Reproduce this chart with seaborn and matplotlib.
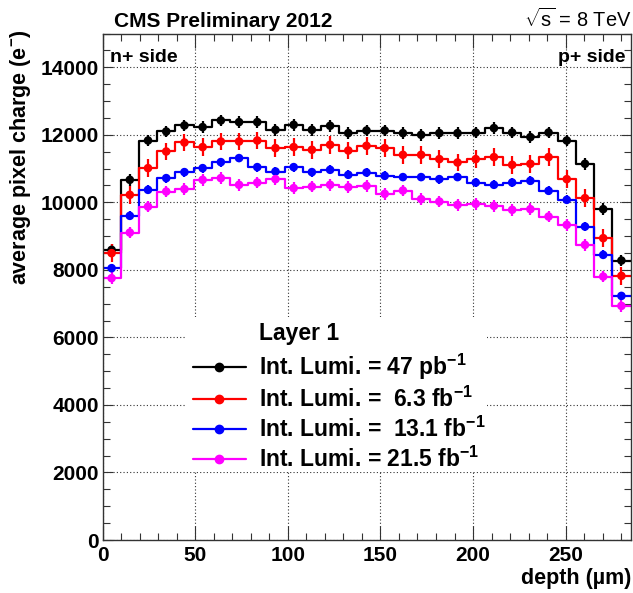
import numpy as np
import pandas as pd
import matplotlib
matplotlib.use("Agg")
import matplotlib.pyplot as plt
import seaborn as sns
from matplotlib.lines import Line2D
from matplotlib.patches import Rectangle
from matplotlib.ticker import MultipleLocator

# ---------------- data ----------------
depth_min, depth_max, n_bins = 0.0, 285.0, 29

charge_47pb = [8593, 10667, 11831, 12098, 12276, 12228, 12424, 12376, 12376, 12148,
               12296, 12148, 12267, 12050, 12127, 12127, 12050, 12000, 12050, 12050,
               12068, 12198, 12068, 11931, 12068, 11831, 11141, 9798, 8276]
charge_6p3fb = [8495, 10222, 11013, 11506, 11772, 11636, 11802, 11802, 11831, 11606,
                11636, 11556, 11704, 11535, 11674, 11606, 11407, 11407, 11280, 11180,
                11280, 11339, 11111, 11141, 11339, 10687, 10124, 8939, 7822]
charge_13p1fb = [8050, 9600, 10370, 10717, 10895, 11013, 11191, 11310, 11043, 10913,
                 11043, 10895, 10963, 10815, 10883, 10785, 10747, 10747, 10687, 10747,
                 10587, 10519, 10587, 10637, 10341, 10074, 9283, 8444, 7229]
charge_21p5fb = [7754, 9105, 9875, 10320, 10391, 10667, 10717, 10519, 10587, 10687,
                 10421, 10468, 10519, 10450, 10489, 10252, 10350, 10095, 10024, 9926,
                 9956, 9896, 9778, 9798, 9579, 9333, 8741, 7802, 6933]

errors = [170, 260, 130, 170]   # estimated statistical uncertainty per series

series_labels = ["Int. Lumi. = 47 pb$^{\\mathbf{-1}}$",
                 "Int. Lumi. =  6.3 fb$^{\\mathbf{-1}}$",
                 "Int. Lumi. =  13.1 fb$^{\\mathbf{-1}}$",
                 "Int. Lumi. = 21.5 fb$^{\\mathbf{-1}}$"]
series_colors = ["#000000", "#ff0000", "#0000ff", "#ff00ff"]
series_values = [charge_47pb, charge_6p3fb, charge_13p1fb, charge_21p5fb]

x_major_ticks = [0, 50, 100, 150, 200, 250]
y_major_ticks = [0, 2000, 4000, 6000, 8000, 10000, 12000, 14000]

# ---------------- style ----------------
sns.set_theme(style="ticks")
plt.rcParams['font.family'] = ['Liberation Sans', 'DejaVu Sans']
plt.rcParams['font.weight'] = 'bold'
plt.rcParams['text.color'] = 'black'
plt.rcParams['axes.labelcolor'] = 'black'
plt.rcParams['xtick.color'] = 'black'
plt.rcParams['ytick.color'] = 'black'
plt.rcParams['mathtext.fontset'] = 'custom'
plt.rcParams['mathtext.rm'] = 'Liberation Sans:normal'
plt.rcParams['mathtext.it'] = 'Liberation Sans:italic:normal'
plt.rcParams['mathtext.bf'] = 'Liberation Sans:bold'

W, H = 633, 593
fig = plt.figure(figsize=(W / 100, H / 100), dpi=100)
fig.patch.set_facecolor("white")


def fx(x):
    return x / W


def fy(y):
    return 1 - y / H


ax = fig.add_axes([fx(102.5), fy(540), fx(630.5) - fx(102.5), fy(33.5) - fy(540)])
ax.set_facecolor("white")

edges = [float(e) for e in np.linspace(depth_min, depth_max, n_bins + 1)]
centers = [0.5 * (a + b) for a, b in zip(edges[:-1], edges[1:])]

for vals, col, err in zip(series_values, series_colors, errors):
    df = pd.DataFrame({"depth": centers, "charge": vals})
    sns.histplot(data=df, x="depth", weights="charge", bins=edges, element="step",
                 fill=False, color=col, linewidth=1.6, ax=ax, zorder=2)
    ax.errorbar(centers, vals, yerr=err, fmt="none", ecolor=col, elinewidth=1.6,
                capsize=0, zorder=3)
    sns.scatterplot(data=df, x="depth", y="charge", color=col, s=38, edgecolor="none",
                    linewidth=0, ax=ax, zorder=4)

ax.set_xlim(depth_min, depth_max)
ax.set_ylim(0, 15000)
ax.set_xlabel("")
ax.set_ylabel("")
ax.set_xticks(x_major_ticks)
ax.set_yticks(y_major_ticks)
ax.xaxis.set_minor_locator(MultipleLocator(10))
ax.yaxis.set_minor_locator(MultipleLocator(500))
ax.set_axisbelow(True)
ax.grid(True, which="major", linestyle=(0, (1, 2)), color="#333333", linewidth=0.8)

ax.tick_params(axis="both", which="both", direction="in", top=True, right=True,
               color="#333333", labelcolor="black", width=0.8, labelsize=15)
ax.tick_params(axis="x", which="major", length=10, pad=4)
ax.tick_params(axis="x", which="minor", length=5)
ax.tick_params(axis="y", which="major", length=7.5, pad=2.5)
ax.tick_params(axis="y", which="minor", length=5)
for sp in ax.spines.values():
    sp.set_visible(True)
    sp.set_color("#333333")
    sp.set_linewidth(1.0)

# white legend background
ax.add_patch(Rectangle((fx(185), fy(472)), fx(487) - fx(185), fy(317) - fy(472),
                       transform=fig.transFigure, facecolor="white", edgecolor="none",
                       zorder=1))

handles = [Line2D([], [], color=c, lw=1.6, marker="o", markersize=6) for c in series_colors]
ax.legend(handles, series_labels, loc="upper left", bbox_to_anchor=(fx(193), fy(352)),
          bbox_transform=fig.transFigure, frameon=False,
          prop={"weight": "bold", "size": 16.5}, handlelength=2.3, handletextpad=0.57,
          labelspacing=0.2, borderpad=0, borderaxespad=0, labelcolor="black")
fig.text(fx(259), fy(340), "Layer 1", ha="left", va="baseline", fontsize=16.5,
         fontweight="bold", color="black")

# texts
fig.text(fx(114), fy(26.7), "CMS Preliminary 2012", ha="left", va="baseline",
         fontsize=15, fontweight="bold", color="black")
fig.text(fx(631.5), fy(26.7), "$\\sqrt{\\mathrm{s}}$ = 8 TeV", ha="right", va="baseline",
         fontsize=14.4, fontweight="normal", color="black")
fig.text(fx(110), fy(61.5), "n+ side", ha="left", va="baseline", fontsize=14,
         fontweight="bold", color="black")
fig.text(fx(626), fy(61.5), "p+ side", ha="right", va="baseline", fontsize=14,
         fontweight="bold", color="black")
fig.text(fx(631.5), fy(584), "depth (\u00b5m)", ha="right", va="baseline", fontsize=15.5,
         fontweight="bold", color="black")
fig.text(fx(21), fy(30), "average pixel charge (e$^{\\mathbf{-}}$)", rotation=90,
         ha="center", va="top", fontsize=15.5, fontweight="bold", color="black")

fig.savefig("out.png", dpi=100, facecolor="white")
